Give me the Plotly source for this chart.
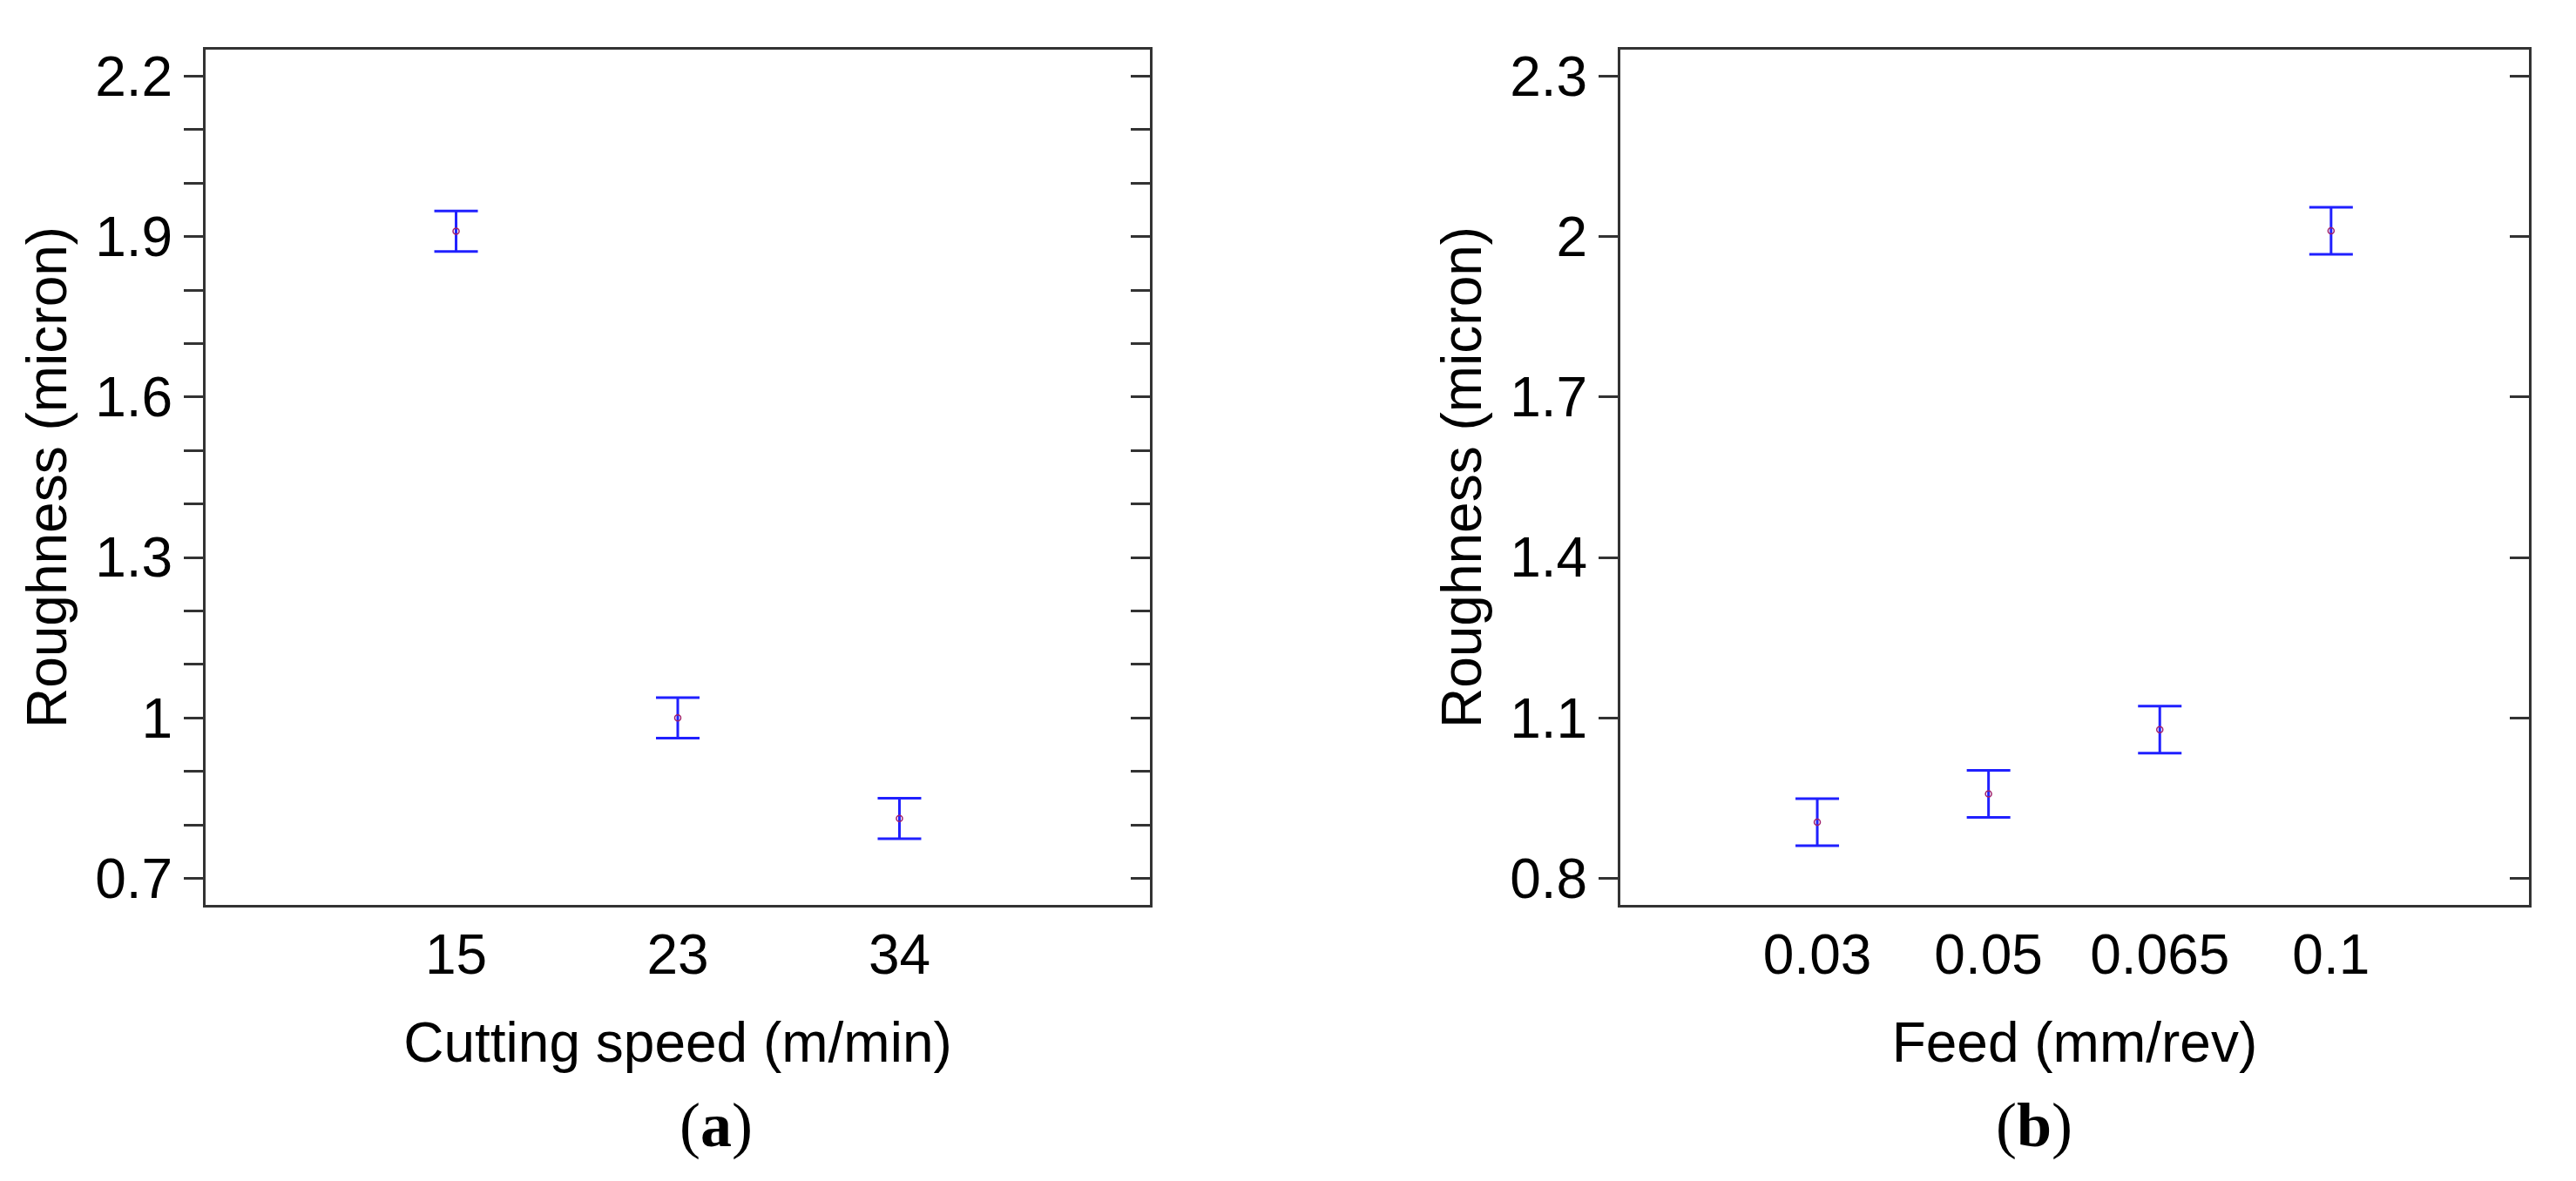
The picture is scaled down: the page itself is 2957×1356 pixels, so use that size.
import plotly.graph_objects as go

speed_labels = ["15", "23", "34"]
speed_mean = [1.91, 1.00, 0.812]
speed_err = [0.038, 0.038, 0.038]

feed_labels = ["0.03", "0.05", "0.065", "0.1"]
feed_mean = [0.905, 0.958, 1.078, 2.011]
feed_err = [0.044, 0.044, 0.044, 0.044]

FONT = "Liberation Sans"
BLUE = "#2020ff"
fig = go.Figure()

def add_panel(fig, labels, mean, err, xa, ya, ya2):
    pos = list(range(1, len(labels) + 1))
    fig.add_trace(go.Scatter(
        x=pos, y=mean, mode="markers", xaxis=xa, yaxis=ya,
        marker=dict(symbol="circle-open", size=7, color="#a0206a", line=dict(width=1.5)),
        error_y=dict(type="data", array=err, visible=True, color=BLUE, thickness=3, width=25),
        showlegend=False, hoverinfo="skip"))
    fig.add_trace(go.Scatter(x=pos, y=mean, mode="markers", xaxis=xa, yaxis=ya2,
                             marker=dict(opacity=0), showlegend=False, hoverinfo="skip"))

add_panel(fig, speed_labels, speed_mean, speed_err, "x", "y", "y2")
add_panel(fig, feed_labels, feed_mean, feed_err, "x2", "y3", "y4")

axfont = dict(family=FONT, size=64, color="black")
common_x = dict(showgrid=False, zeroline=False, showline=True, linecolor="#333", linewidth=3,
                mirror=True, ticks="", tickfont=axfont, title_font=axfont, ticklabelstandoff=0)
common_y = dict(showgrid=False, zeroline=False, showline=True, linecolor="#333", linewidth=3,
                mirror=True, ticks="outside", ticklen=22, tickwidth=3, tickcolor="#333",
                tickfont=axfont, title_font=axfont)
YDOM = [0.2375, 0.967]

fig.update_layout(
    width=2957, height=1356, paper_bgcolor="white", plot_bgcolor="white",
    margin=dict(l=0, r=0, t=0, b=0),
    xaxis=dict(common_x, domain=[0.0771, 0.4437], anchor="y", range=[-0.13, 4.13],
               tickvals=[1, 2, 3], ticktext=speed_labels,
               title=dict(text="Cutting speed (m/min)", standoff=43)),
    yaxis=dict(common_y, domain=YDOM, anchor="x", range=[0.651, 2.249],
               tickvals=[0.7, 0.8, 0.9, 1.0, 1.1, 1.2, 1.3, 1.4, 1.5, 1.6, 1.7, 1.8, 1.9, 2.0, 2.1, 2.2],
               ticktext=["0.7", "", "", "1", "", "", "1.3", "", "", "1.6", "", "", "1.9", "", "", "2.2"],
               title=dict(text="Roughness (micron)", standoff=12)),
    yaxis2=dict(overlaying="y", side="right", anchor="x", range=[0.651, 2.249], showgrid=False,
                zeroline=False, showticklabels=False, ticks="inside", ticklen=22, tickwidth=3,
                tickcolor="#333", dtick=0.1, tick0=0.7),
    xaxis2=dict(common_x, domain=[0.6263, 0.979], anchor="y3", range=[-0.15, 5.155],
                tickvals=[1, 2, 3, 4], ticktext=feed_labels,
                title=dict(text="Feed (mm/rev)", standoff=43)),
    yaxis3=dict(common_y, domain=YDOM, anchor="x2", range=[0.751, 2.349],
                tickvals=[0.8, 1.1, 1.4, 1.7, 2.0, 2.3], ticktext=["0.8", "1.1", "1.4", "1.7", "2", "2.3"],
                title=dict(text="Roughness (micron)", standoff=12)),
    yaxis4=dict(overlaying="y3", side="right", anchor="x2", range=[0.751, 2.349], showgrid=False,
                zeroline=False, showticklabels=False, ticks="inside", ticklen=22, tickwidth=3,
                tickcolor="#333", tickvals=[0.8, 1.1, 1.4, 1.7, 2.0, 2.3]),
    annotations=[
        dict(text="(<b>a</b>)", x=0.2604, y=0.049, xref="paper", yref="paper", yanchor="middle",
             showarrow=False, font=dict(family="Liberation Serif", size=72, color="black")),
        dict(text="(<b>b</b>)", x=0.8026, y=0.049, xref="paper", yref="paper", yanchor="middle",
             showarrow=False, font=dict(family="Liberation Serif", size=72, color="black")),
    ],
)

fig.write_html("out.html")
